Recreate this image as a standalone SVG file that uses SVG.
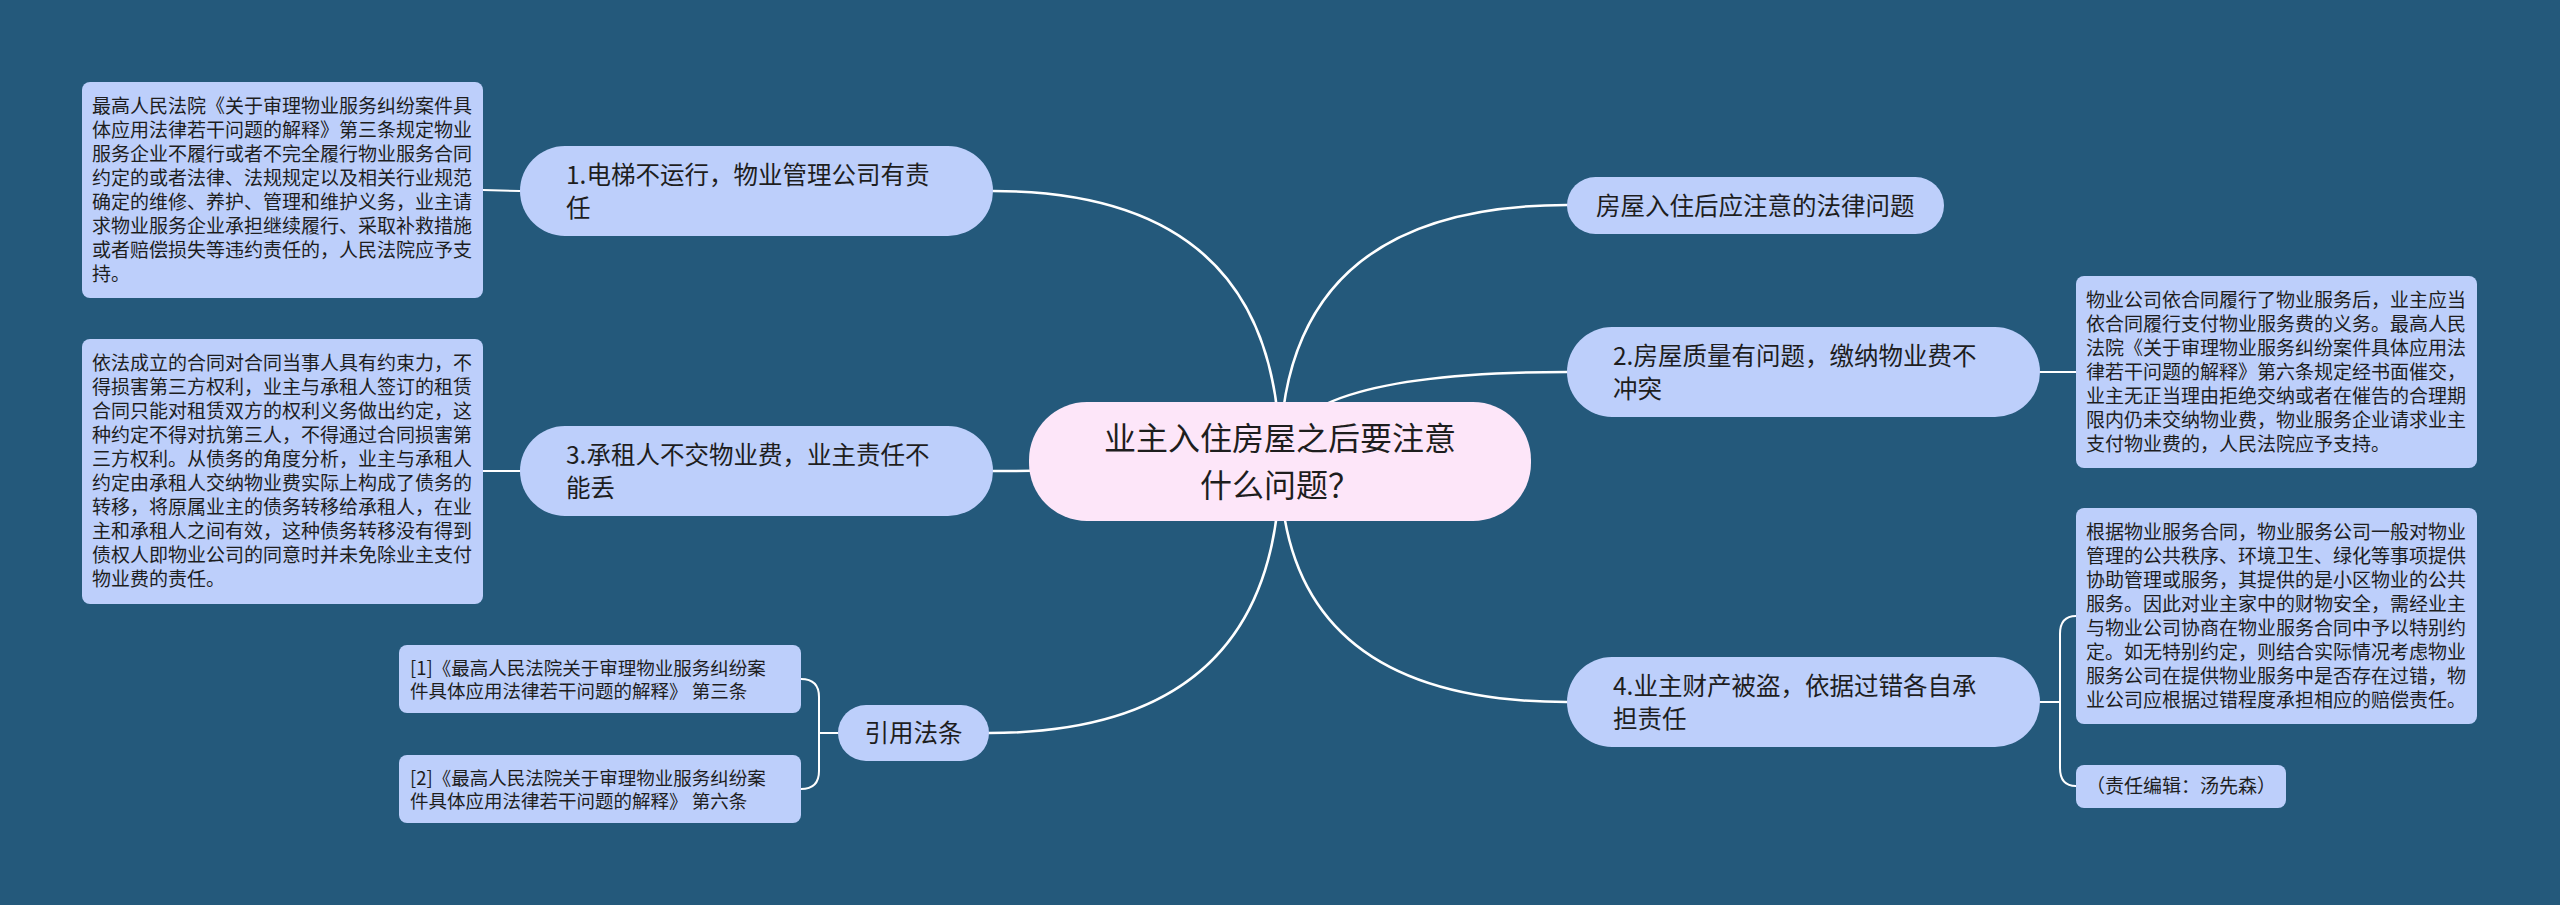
<svg xmlns="http://www.w3.org/2000/svg" width="2560" height="905" viewBox="0 0 2560 905">
<style>
.bg{fill:#24597B}
.n1{fill:#BDCFFB}
.root{fill:#FDE6F9}
.box{fill:#BDCFFB}
text{font-family:"Noto Sans CJK SC","Noto Sans",sans-serif;fill:#1E1E1E}
.t1{font-size:24.5px}
.t0{font-size:32px}
.td{font-size:19px}
.tr{font-size:18.5px}
.c{fill:none;stroke:#FFFFFF;stroke-width:2.5;stroke-linecap:round}
.c2{fill:none;stroke:#FFFFFF;stroke-width:2;stroke-linecap:round}
</style>
<rect class="bg" x="0" y="0" width="2560" height="905"/>
<g id="connectors">
<path class="c" d="M1280,461 Q1280,191 993,191"/>
<path class="c" d="M1280,461 Q1140,471 993,471"/>
<path class="c" d="M1280,461 Q1280,733 989,733"/>
<path class="c" d="M1280,461 Q1280,205 1567,205"/>
<path class="c" d="M1280,461 Q1280,372 1567,372"/>
<path class="c" d="M1280,461 Q1280,702 1567,702"/>
<path class="c2" d="M483,190 L520,191"/>
<path class="c2" d="M483,471 L520,471"/>
<path class="c2" d="M2040,372 L2076,372"/>
<path class="c2" d="M2040,702 L2060,702 M2060,702 L2060,634 Q2060,616 2076,616 M2060,702 L2060,768 Q2060,786 2076,786"/>
<path class="c2" d="M838,733 L819,733 M819,733 L819,697 Q819,679 801,679 M819,733 L819,771 Q819,789 801,789"/>
</g>
<g id="root">
<rect class="root" x="1029" y="402" width="502" height="119" rx="58"/>
<text class="t0" x="1280" y="450" text-anchor="middle">业主入住房屋之后要注意</text>
<text class="t0" x="1280" y="497" text-anchor="middle">什么问题？</text>
</g>
<g id="node1">
<rect class="n1" x="520" y="146" width="473" height="90" rx="45"/>
<text class="t1" x="566" y="184">1.电梯不运行，物业管理公司有责</text>
<text class="t1" x="566" y="217">任</text>
</g>
<g id="detail1">
<rect class="box" x="82" y="82" width="401" height="216" rx="8"/>
<text class="td" x="92" y="113">最高人民法院《关于审理物业服务纠纷案件具</text>
<text class="td" x="92" y="137">体应用法律若干问题的解释》第三条规定物业</text>
<text class="td" x="92" y="161">服务企业不履行或者不完全履行物业服务合同</text>
<text class="td" x="92" y="185">约定的或者法律、法规规定以及相关行业规范</text>
<text class="td" x="92" y="209">确定的维修、养护、管理和维护义务，业主请</text>
<text class="td" x="92" y="233">求物业服务企业承担继续履行、采取补救措施</text>
<text class="td" x="92" y="257">或者赔偿损失等违约责任的，人民法院应予支</text>
<text class="td" x="92" y="281">持。</text>
</g>
<g id="node3">
<rect class="n1" x="520" y="426" width="473" height="90" rx="45"/>
<text class="t1" x="566" y="464">3.承租人不交物业费，业主责任不</text>
<text class="t1" x="566" y="497">能丢</text>
</g>
<g id="detail3">
<rect class="box" x="82" y="339" width="401" height="265" rx="8"/>
<text class="td" x="92" y="370">依法成立的合同对合同当事人具有约束力，不</text>
<text class="td" x="92" y="394">得损害第三方权利，业主与承租人签订的租赁</text>
<text class="td" x="92" y="418">合同只能对租赁双方的权利义务做出约定，这</text>
<text class="td" x="92" y="442">种约定不得对抗第三人，不得通过合同损害第</text>
<text class="td" x="92" y="466">三方权利。从债务的角度分析，业主与承租人</text>
<text class="td" x="92" y="490">约定由承租人交纳物业费实际上构成了债务的</text>
<text class="td" x="92" y="514">转移，将原属业主的债务转移给承租人，在业</text>
<text class="td" x="92" y="538">主和承租人之间有效，这种债务转移没有得到</text>
<text class="td" x="92" y="562">债权人即物业公司的同意时并未免除业主支付</text>
<text class="td" x="92" y="586">物业费的责任。</text>
</g>
<g id="node-ref">
<rect class="n1" x="838" y="705" width="151" height="56" rx="28"/>
<text class="t1" x="913.5" y="742" text-anchor="middle">引用法条</text>
</g>
<g id="ref1">
<rect class="box" x="399" y="645" width="402" height="68" rx="8"/>
<text class="tr" x="410" y="675">[1]《最高人民法院关于审理物业服务纠纷案</text>
<text class="tr" x="410" y="698">件具体应用法律若干问题的解释》 第三条</text>
</g>
<g id="ref2">
<rect class="box" x="399" y="755" width="402" height="68" rx="8"/>
<text class="tr" x="410" y="785">[2]《最高人民法院关于审理物业服务纠纷案</text>
<text class="tr" x="410" y="808">件具体应用法律若干问题的解释》 第六条</text>
</g>
<g id="node-title">
<rect class="n1" x="1567" y="177" width="377" height="57" rx="28.5"/>
<text class="t1" x="1596" y="215">房屋入住后应注意的法律问题</text>
</g>
<g id="node2">
<rect class="n1" x="1567" y="327" width="473" height="90" rx="45"/>
<text class="t1" x="1613" y="365">2.房屋质量有问题，缴纳物业费不</text>
<text class="t1" x="1613" y="398">冲突</text>
</g>
<g id="detail2">
<rect class="box" x="2076" y="276" width="401" height="192" rx="8"/>
<text class="td" x="2086" y="307">物业公司依合同履行了物业服务后，业主应当</text>
<text class="td" x="2086" y="331">依合同履行支付物业服务费的义务。最高人民</text>
<text class="td" x="2086" y="355">法院《关于审理物业服务纠纷案件具体应用法</text>
<text class="td" x="2086" y="379">律若干问题的解释》第六条规定经书面催交，</text>
<text class="td" x="2086" y="403">业主无正当理由拒绝交纳或者在催告的合理期</text>
<text class="td" x="2086" y="427">限内仍未交纳物业费，物业服务企业请求业主</text>
<text class="td" x="2086" y="451">支付物业费的，人民法院应予支持。</text>
</g>
<g id="node4">
<rect class="n1" x="1567" y="657" width="473" height="90" rx="45"/>
<text class="t1" x="1613" y="695">4.业主财产被盗，依据过错各自承</text>
<text class="t1" x="1613" y="728">担责任</text>
</g>
<g id="detail4">
<rect class="box" x="2076" y="508" width="401" height="216" rx="8"/>
<text class="td" x="2086" y="539">根据物业服务合同，物业服务公司一般对物业</text>
<text class="td" x="2086" y="563">管理的公共秩序、环境卫生、绿化等事项提供</text>
<text class="td" x="2086" y="587">协助管理或服务，其提供的是小区物业的公共</text>
<text class="td" x="2086" y="611">服务。因此对业主家中的财物安全，需经业主</text>
<text class="td" x="2086" y="635">与物业公司协商在物业服务合同中予以特别约</text>
<text class="td" x="2086" y="659">定。如无特别约定，则结合实际情况考虑物业</text>
<text class="td" x="2086" y="683">服务公司在提供物业服务中是否存在过错，物</text>
<text class="td" x="2086" y="707">业公司应根据过错程度承担相应的赔偿责任。</text>
</g>
<g id="editor">
<rect class="box" x="2076" y="765" width="210" height="43" rx="8"/>
<text class="td" x="2086" y="793">（责任编辑：汤先森）</text>
</g>
</svg>
